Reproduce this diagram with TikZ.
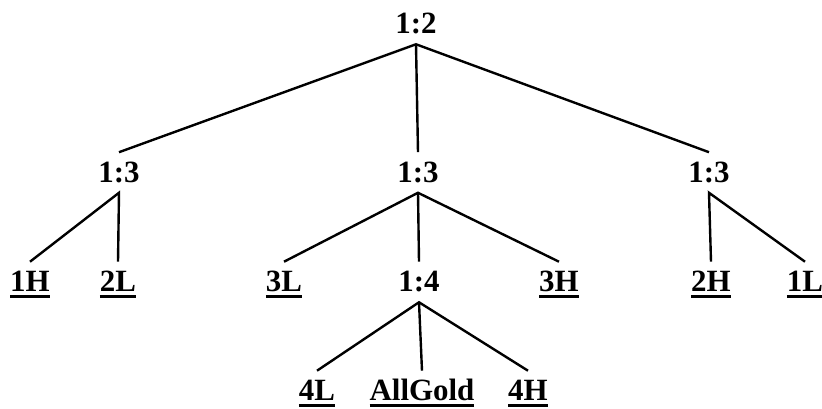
\documentclass[tikz,border=0pt]{standalone}
\usepackage{fontspec}
\setmainfont{Liberation Serif}
\newcommand{\ulbold}[1]{\setbox0=\hbox{#1}\rlap{\rule[-0.16cm]{\wd0}{0.075cm}}\box0}
\begin{document}
\begin{tikzpicture}[
    lbl/.style={font=\fontsize{22}{26}\selectfont\bfseries, text height=0.5cm, text depth=0cm, inner sep=0.25cm},
    branch/.style={line width=0.6mm}]
    \useasboundingbox (0, 0) rectangle (20.55, 10.225);
    \node [lbl] (root) at (10.4, 9.625) {1:2};

    \node [lbl] (left) at (2.975, 5.9125) {1:3};
    \node [lbl] (mid) at (10.45, 5.9125) {1:3};
    \node [lbl] (right) at (17.725, 5.9125) {1:3};

    \node [lbl] (oneH) at (0.75, 3.175) {\ulbold{1H}};
    \node [lbl] (twoL) at (2.95, 3.175) {\ulbold{2L}};
    \node [lbl] (threeL) at (7.1, 3.175) {\ulbold{3L}};
    \node [lbl] (quarter) at (10.475, 3.175) {1:4};
    \node [lbl] (threeH) at (13.975, 3.175) {\ulbold{3H}};
    \node [lbl] (twoH) at (17.775, 3.175) {\ulbold{2H}};
    \node [lbl] (oneL) at (20.125, 3.175) {\ulbold{1L}};

    \node [lbl] (fourL) at (7.925, 0.45) {\ulbold{4L}};
    \node [lbl] (allGold) at (10.55, 0.45) {\ulbold{AllGold}};
    \node [lbl] (fourH) at (13.2, 0.45) {\ulbold{4H}};

    \draw [branch] (left.north) -- (root.south) -- (right.north);
    \draw [branch] (root.south) -- (mid.north);

    \draw [branch] (oneH.north) -- (left.south) -- (twoL.north);
    \draw [branch] (threeL.north) -- (mid.south) -- (threeH.north);
    \draw [branch] (mid.south) -- (quarter.north);
    \draw [branch] (twoH.north) -- (right.south) -- (oneL.north);

    \draw [branch] (fourL.north) -- (quarter.south) -- (fourH.north);
    \draw [branch] (quarter.south) -- (allGold.north);
\end{tikzpicture}
\end{document}
